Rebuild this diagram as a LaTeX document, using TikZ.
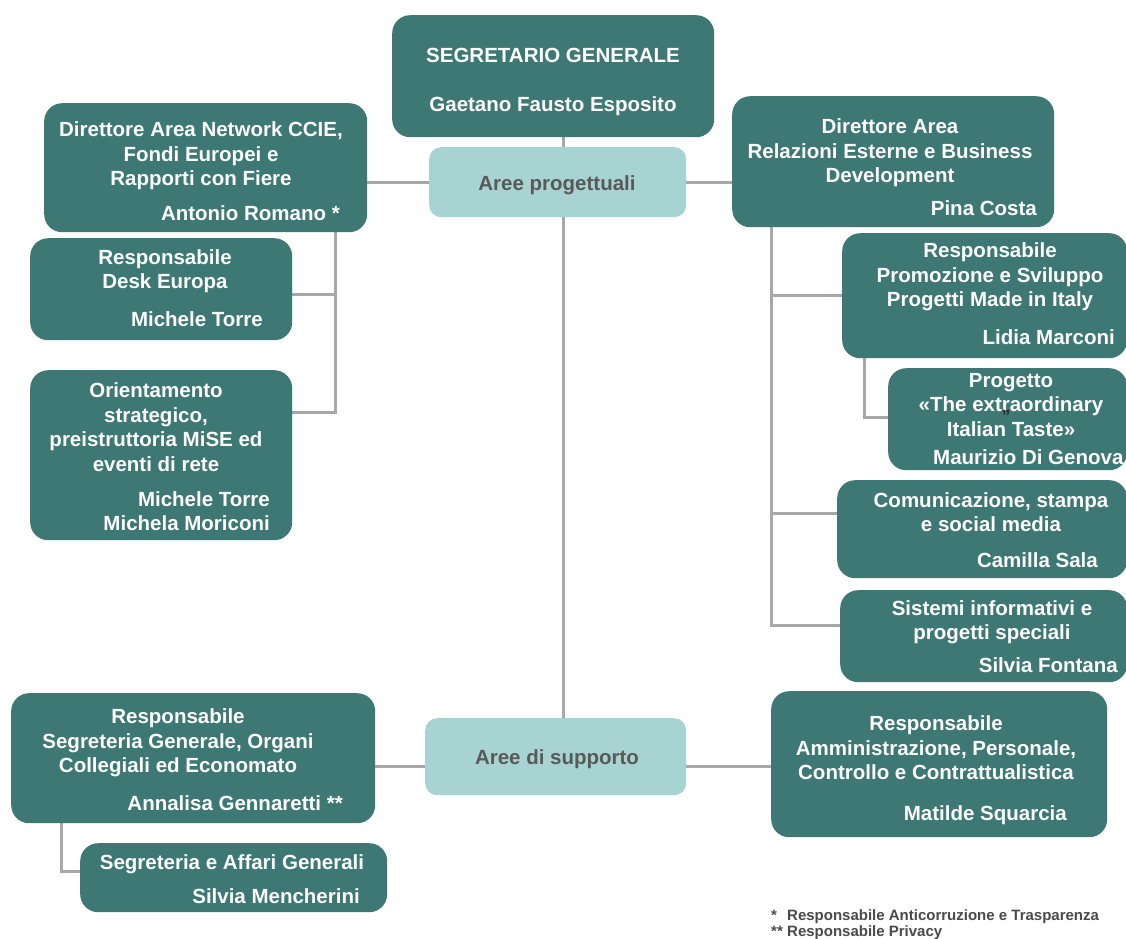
\documentclass[tikz,border=0pt]{standalone}
\usepackage{fontspec}
\setmainfont{Liberation Sans}
\usetikzlibrary{backgrounds}
\definecolor{dteal}{HTML}{3D7874}
\definecolor{lteal}{HTML}{A7D4D2}
\definecolor{lgray}{HTML}{A8A8A8}
\definecolor{dtext}{HTML}{595959}
\definecolor{ftext}{HTML}{4A4A4A}
\begin{document}
\begin{tikzpicture}[x=1pt,y=-1pt,
  box/.style={fill=dteal, rounded corners=18pt, anchor=north west, inner sep=0pt},
  lbox/.style={fill=lteal, rounded corners=12pt, anchor=north west, inner sep=0pt},
  wt/.style={text=white, font=\bfseries\fontsize{20.5}{24.5}\selectfont, inner sep=0pt, align=center},
  gt/.style={text=dtext, font=\bfseries\fontsize{20.5}{24.5}\selectfont, inner sep=0pt},
  ft/.style={text=ftext, font=\bfseries\fontsize{15}{17}\selectfont, inner sep=0pt},
  conn/.style={draw=lgray, line width=3pt}]
\useasboundingbox (0,0) rectangle (1126,938);
\clip (0,0) rectangle (1126,938);

% boxes
\node[box, minimum width=322pt, minimum height=122pt] (sg) at (392,15) {};
\node[lbox, minimum width=257pt, minimum height=70pt] (ap) at (429,147) {};
\node[box, minimum width=323pt, minimum height=129pt] (dl) at (44,103) {};
\node[box, minimum width=262pt, minimum height=102pt] (de) at (30,238) {};
\node[box, minimum width=262pt, minimum height=170pt] (or) at (30,370) {};
\node[box, minimum width=322pt, minimum height=131pt] (dr) at (732,96) {};
\node[box, minimum width=285pt, minimum height=125pt] (pr) at (842,233) {};
\node[box, minimum width=239pt, minimum height=102pt] (pg) at (888,368) {};
\node[box, minimum width=290pt, minimum height=98pt] (cm) at (837,480) {};
\node[box, minimum width=287pt, minimum height=92pt] (si) at (840,590) {};
\node[box, minimum width=364pt, minimum height=130pt] (rs) at (11,693) {};
\node[box, minimum width=307pt, minimum height=69pt] (sa) at (80,843) {};
\node[lbox, minimum width=261pt, minimum height=77pt] (su) at (425,718) {};
\node[box, minimum width=336pt, minimum height=146pt] (am) at (771,691) {};

% connectors
\begin{scope}[on background layer]
\fill[white] (0,0) rectangle (1126,938);
\coordinate (cv) at (563,0);
\draw[conn] (cv |- sg.south) -- (cv |- su.north);
\draw[conn] (ap.west -| dl.east) -- (ap.west);
\draw[conn] (ap.east) -- (ap.east -| dr.west);
\coordinate (lv) at (335,412);
\coordinate (lh) at (335,294);
\draw[conn] (lv |- dl.south) -- (lv) -- (lv -| or.east);
\draw[conn] (lh) -- (lh -| de.east);
\coordinate (rv) at (771,625);
\coordinate (rh1) at (771,295);
\coordinate (rh2) at (771,513);
\draw[conn] (rv |- dr.south) -- (rv) -- (rv -| si.west);
\draw[conn] (rh1) -- (rh1 -| pr.west);
\draw[conn] (rh2) -- (rh2 -| cm.west);
\coordinate (pv) at (864,417);
\draw[conn] (pv |- pr.south) -- (pv) -- (pv -| pg.west);
\coordinate (bh) at (0,766);
\draw[conn] (bh -| rs.east) -- (bh -| su.west);
\draw[conn] (bh -| su.east) -- (bh -| am.west);
\coordinate (sv) at (61,871);
\draw[conn] (sv |- rs.south) -- (sv) -- (sv -| sa.west);
\end{scope}

% texts
\node[wt, anchor=base] (t-sg1) at (553,62) {SEGRETARIO GENERALE};
\node[wt, anchor=base] (t-sg2) at (553,111) {Gaetano Fausto Esposito};
\node[gt, anchor=base] (t-ap) at (557,190) {Aree progettuali};
\node[gt, anchor=base] (t-su) at (557,764) {Aree di supporto};

\node[wt] (t-dl) at (201,156) {Direttore Area Network CCIE,\\Fondi Europei e\\Rapporti con Fiere};
\node[wt, anchor=base east] (n-dl) at (340,220) {Antonio Romano *};

\node[wt] (t-de) at (165,271) {Responsabile\\Desk Europa};
\node[wt, anchor=base east] (n-de) at (263,326) {Michele Torre};

\node[wt] (t-or) at (156,427) {Orientamento\\strategico,\\preistruttoria MiSE ed\\eventi di rete};
\node[wt, align=right, anchor=east] (n-or) at (270,511) {Michele Torre\\Michela Moriconi};

\node[wt] (t-dr) at (890,153) {Direttore Area\\Relazioni Esterne e Business\\Development};
\node[wt, anchor=base east] (n-dr) at (1037,215) {Pina Costa};

\node[wt] (t-pr) at (990,277) {Responsabile\\Promozione e Sviluppo\\Progetti Made in Italy};
\node[wt, anchor=base east] (n-pr) at (1115,344) {Lidia Marconi};

\node[wt] (t-pg) at (1011,405) {Progetto\\«The extraordinary\\Italian Taste»};
\node[text=black!85, font=\bfseries\fontsize{17}{17}\selectfont, inner sep=0pt, anchor=base] (q-pg) at (1006,412) {„};
\node[wt, anchor=base west] (n-pg) at (933,464) {Maurizio Di Genova};

\node[wt] (t-cm) at (991,512) {Comunicazione, stampa\\e social media};
\node[wt, anchor=base east] (n-cm) at (1098,567) {Camilla Sala};

\node[wt] (t-si) at (992,622) {Sistemi informativi e\\progetti speciali};
\node[wt, anchor=base east] (n-si) at (1118,672) {Silvia Fontana};

\node[wt] (t-rs) at (178,743) {Responsabile\\Segreteria Generale, Organi\\Collegiali ed Economato};
\node[wt, anchor=base east] (n-rs) at (343,810) {Annalisa Gennaretti **};

\node[wt, anchor=base] (t-sa) at (232,869) {Segreteria e Affari Generali};
\node[wt, anchor=base east] (n-sa) at (360,903) {Silvia Mencherini};

\node[wt] (t-am) at (936,748) {Responsabile\\Amministrazione, Personale,\\Controllo e Contrattualistica};
\node[wt, anchor=base east] (n-am) at (1067,820) {Matilde Squarcia};

% footnotes
\node[ft, anchor=base west] (f1s) at (771,920) {*};
\node[ft, anchor=base west] (f1) at (787,920) {Responsabile Anticorruzione e Trasparenza};
\node[ft, anchor=base west] (f2s) at (771,936) {**};
\node[ft, anchor=base west] (f2) at (787,936) {Responsabile Privacy};
\end{tikzpicture}
\end{document}
